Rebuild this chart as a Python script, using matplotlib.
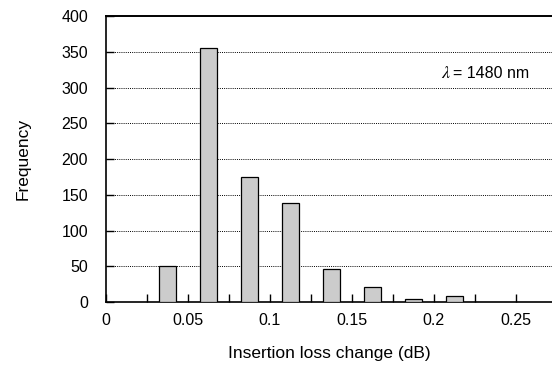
import matplotlib.pyplot as plt
import numpy as np

plt.rcParams['font.family'] = ['Liberation Sans', 'DejaVu Sans']
plt.rcParams['mathtext.fontset'] = 'stix'

# histogram of insertion loss change (bin centres in dB)
bin_centres = [0.0375, 0.0625, 0.0875, 0.1125, 0.1375, 0.1625, 0.1875, 0.2125]
counts = [50, 355, 175, 138, 47, 21, 4, 8]
x_labels = ['0', '0.05', '0.1', '0.15', '0.2', '0.25']

fig = plt.figure(figsize=(5.52, 3.68), dpi=100)
ax = fig.add_axes([0.192, 0.179, 0.808, 0.777])

ax.bar(bin_centres, counts, width=0.0105, color='#cccccc',
       edgecolor='black', linewidth=0.9, zorder=3)

ax.set_xlim(0, 0.2721)
ax.set_ylim(0, 400)
ax.set_yticks(np.arange(0, 401, 50))
ax.set_xticks(np.arange(0, 0.27, 0.025), minor=False)
ax.set_xticklabels([x_labels[i // 2] if i % 2 == 0 else ''
                    for i in range(11)])

for y in range(50, 400, 50):
    ax.axhline(y, color='black', linestyle=(0, (1, 1.2)), linewidth=0.7, zorder=1)

ax.tick_params(direction='in', length=6, width=1, labelsize=11.5,
               pad=13, colors='black')
ax.tick_params(axis='x', pad=8)
ax.spines['right'].set_visible(False)
ax.spines['top'].set_linewidth(1.4)
for s in ['left', 'bottom']:
    ax.spines[s].set_linewidth(1.2)

ax.set_xlabel('Insertion loss change (dB)', fontsize=12.5, labelpad=13)
ax.set_ylabel('Frequency', fontsize=12.5, labelpad=22)

ax.text(0.2046, 320, r'$\lambda$', fontsize=13, ha='left', va='center')
ax.text(0.2115, 320, '= 1480 nm', fontsize=11.5, ha='left', va='center')

fig.savefig('out.png', dpi=100)
